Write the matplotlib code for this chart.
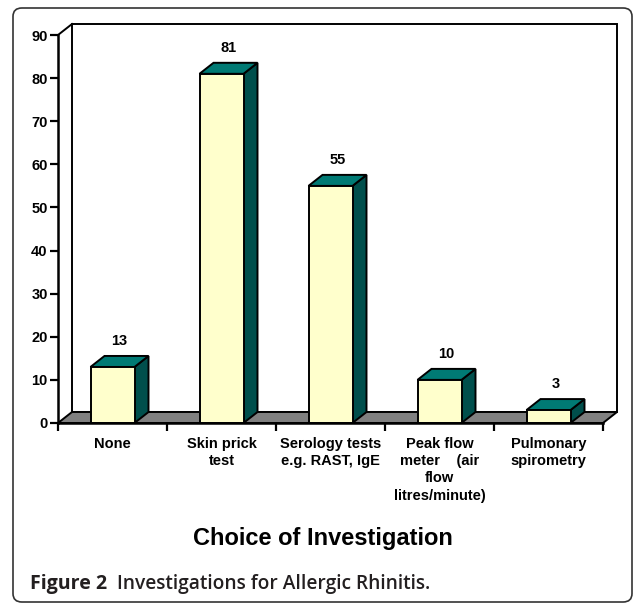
import numpy as np
import matplotlib
matplotlib.use('Agg')
import matplotlib.pyplot as plt
from matplotlib.patches import Polygon, Rectangle, FancyBboxPatch

categories = ['None', 'Skin prick\ntest', 'Serology tests\ne.g. RAST, IgE',
              'Peak flow\nmeter    (air\nflow\nlitres/minute)', 'Pulmonary\nspirometry']
values = [13, 81, 55, 10, 3]
yticks = [0, 10, 20, 30, 40, 50, 60, 70, 80, 90]
title = 'Choice of Investigation'

plt.rcParams['font.family'] = ['Liberation Sans', 'DejaVu Sans']

W, H = 634, 604
fig = plt.figure(figsize=(W / 100, H / 100), dpi=100)

# frame round the whole figure
box = FancyBboxPatch((13 / W, 2 / H), 619 / W, 594 / H,
                     boxstyle='round,pad=0,rounding_size=0.014',
                     transform=fig.transFigure, fill=False,
                     edgecolor='#333333', linewidth=1.2)
fig.patches.append(box)

# chart area: x from 58 to 603 px, y 0 at 423 px, 90 at 35 px
ax = fig.add_axes([58 / W, (H - 423) / H, (603 - 58) / W, (423 - 35) / H])
n = len(values)
ax.set_xlim(-0.5, n - 0.5)
ax.set_ylim(0, 90)
ax.patch.set_alpha(0)

px_x = (n) / (603 - 58)      # data units per pixel, x
px_y = 90 / (423 - 35)       # data units per pixel, y
dx = 14 * px_x
dy = 11 * px_y
bw = 44 * px_x
x0, x1 = -0.5, n - 0.5

# back wall
ax.add_patch(Polygon([[x0 + dx, dy], [x0 + dx, 90 + dy], [x1 + dx, 90 + dy], [x1 + dx, dy]],
                     closed=True, facecolor='white', edgecolor='black', lw=1.4,
                     clip_on=False, zorder=1))
# floor
ax.add_patch(Polygon([[x0, 0], [x0 + dx, dy], [x1 + dx, dy], [x1, 0]],
                     closed=True, facecolor='#808080', edgecolor='black', lw=1.4,
                     clip_on=False, zorder=2))
# left side wall diagonal at top
ax.plot([x0, x0 + dx], [90, 90 + dy], color='black', lw=1.4, clip_on=False, zorder=2)

for i, v in enumerate(values):
    left = i - bw / 2
    right = i + bw / 2
    ax.add_patch(Polygon([[right, 0], [right + dx, dy], [right + dx, v + dy], [right, v]],
                         closed=True, facecolor='#004F4C', edgecolor='black', lw=1.4,
                         clip_on=False, zorder=3, joinstyle='miter'))
    ax.add_patch(Polygon([[left, v], [left + dx, v + dy], [right + dx, v + dy], [right, v]],
                         closed=True, facecolor='#007A74', edgecolor='black', lw=1.4,
                         clip_on=False, zorder=3, joinstyle='miter'))
    ax.add_patch(Rectangle((left, 0), bw, v, facecolor='#FFFFCC', edgecolor='black',
                           lw=1.4, clip_on=False, zorder=4))
    ax.text(i + dx / 2, v + dy + 15 * px_y, str(v), ha='center', va='center',
            fontsize=10.5, fontweight='bold', zorder=5)

for s in ['top', 'right']:
    ax.spines[s].set_visible(False)
for s in ['left', 'bottom']:
    ax.spines[s].set_linewidth(1.8)
    ax.spines[s].set_zorder(6)

ax.set_yticks(yticks)
ax.set_yticklabels([str(t) for t in yticks], fontsize=10.5, fontweight='bold')
ax.tick_params(axis='y', length=6, width=1.6, pad=1.5)

ax.set_xticks(np.arange(n + 1) - 0.5)
ax.set_xticklabels([])
ax.set_xticks(np.arange(n), minor=True)
ax.set_xticklabels(categories, minor=True, fontsize=10.5, fontweight='bold',
                   linespacing=1.3)
ax.tick_params(axis='x', which='major', length=6, width=1.6, direction='out')
ax.tick_params(axis='x', which='minor', length=0, pad=10)

fig.text(323 / W, 1 - 538 / H, title, ha='center', va='center',
         fontsize=17, fontweight='bold')

# caption, sized to the widths seen in the figure
cap_font = ['Open Sans', 'DejaVu Sans']
t1 = fig.text(30 / W, 1 - 584 / H, 'Figure 2', ha='left', va='center', fontsize=13,
              fontweight='bold', color='#231F20', family=cap_font)
t2 = fig.text(117 / W, 1 - 584 / H, 'Investigations for Allergic Rhinitis.', ha='left',
              va='center', fontsize=13, fontweight='semibold', color='#231F20',
              family=cap_font)
r = fig.canvas.get_renderer()
for t, target in [(t1, 77), (t2, 315)]:
    w = t.get_window_extent(r).width
    t.set_fontsize(13 * target / w)

fig.savefig('out.png', dpi=100)
